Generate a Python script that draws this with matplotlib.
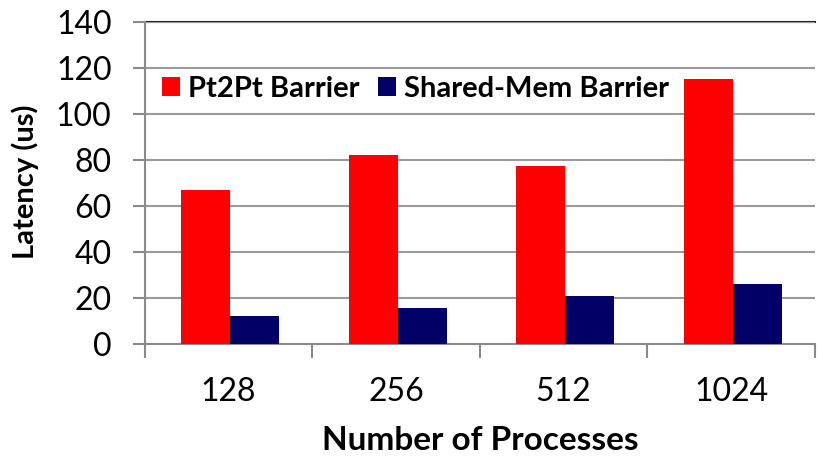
import numpy as np
import matplotlib.pyplot as plt

plt.rcParams['font.family'] = ['Lato', 'DejaVu Sans']

procs = ['128', '256', '512', '1024']
pt2pt = [67.1, 82.3, 77.5, 115.2]
shmem = [12.0, 15.8, 21.0, 26.2]

fig = plt.figure(figsize=(8.23, 4.58), dpi=100)
ax = fig.add_axes([0.176, 0.249, 0.814, 0.703])

x = np.arange(len(procs))
w = 0.293
ax.bar(x - w / 2 + 0.01, pt2pt, w, color='#ff0000', label='Pt2Pt Barrier', zorder=3)
ax.bar(x + w / 2 + 0.01, shmem, w, color='#000066', label='Shared-Mem Barrier', zorder=3)

ax.set_xlim(-0.5, len(procs) - 0.5)
ax.set_ylim(0, 140)
ax.set_yticks(range(0, 141, 20))
ax.set_xticks(x)
ax.set_xticklabels(procs)
ax.set_xticks(np.arange(-0.5, len(procs), 1), minor=True)

ax.grid(axis='y', color='#9a9a9a', linewidth=1.5, zorder=0)
for s in ['top', 'right']:
    ax.spines[s].set_visible(False)
for s in ['left', 'bottom']:
    ax.spines[s].set_color('#8a8a8a')
    ax.spines[s].set_linewidth(1.5)
ax.axhline(140, color='#222222', linewidth=1.5, zorder=1, clip_on=False)

ax.tick_params(axis='y', which='major', length=9, width=1.5, color='#8a8a8a',
               labelsize=23, pad=15)
ax.tick_params(axis='x', which='major', length=0, labelsize=23, pad=24)
ax.tick_params(axis='x', which='minor', length=10, width=1.5, color='#8a8a8a')

fig.text(480 / 823, 8 / 458, 'Number of Processes', fontsize=24,
         fontweight='bold', ha='center', va='baseline')
fig.text(25 / 823, 1 - 182 / 458, 'Latency (us)', fontsize=21,
         fontweight='bold', rotation=90, ha='center', va='center')

ax.legend(loc='center left', bbox_to_anchor=(0.0254, 0.792), ncol=2,
          frameon=False, prop={'weight': 'bold', 'size': 21},
          handlelength=0.62, handleheight=0.62, handletextpad=0.27,
          columnspacing=0.65, borderpad=0, borderaxespad=0)

fig.savefig('out.png', dpi=100)
